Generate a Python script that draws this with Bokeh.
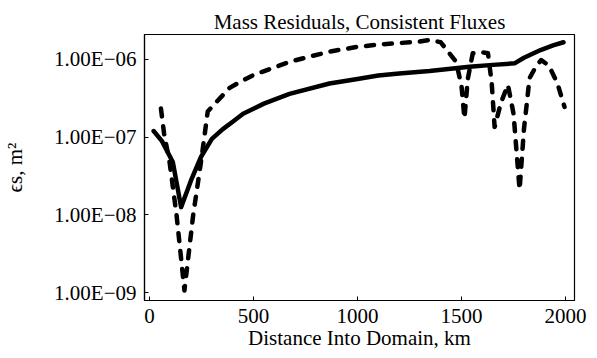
from bokeh.plotting import figure
from bokeh.models import FixedTicker, CustomJSTickFormatter, Range1d
from bokeh.embed import file_html
from bokeh.resources import INLINE

# Solid curve
solid_x = [20, 60, 112, 152, 200, 248, 300, 351, 400, 450, 550, 673, 865, 1000,
           1100, 1200, 1346, 1538, 1650, 1755, 1800, 1880, 1940, 1990]
solid_y = [1.2e-7, 8.9e-8, 4.8e-8, 1.26e-8, 2.8e-8, 5.6e-8, 9.5e-8, 1.26e-7,
           1.58e-7, 2.0e-7, 2.7e-7, 3.6e-7, 4.9e-7, 5.6e-7, 6.2e-7, 6.6e-7,
           7.1e-7, 8.05e-7, 8.5e-7, 8.9e-7, 1.05e-6, 1.32e-6, 1.51e-6, 1.66e-6]

# Dashed curve
dash_x = [55, 70, 96, 130, 168, 210, 248, 280, 320, 385, 433, 500, 673, 865,
          1000, 1100, 1200, 1298, 1346, 1400, 1474, 1500, 1514, 1530, 1554, 1600,
          1627, 1645, 1659, 1690, 1723, 1750, 1779, 1800, 1827, 1860, 1883, 1920,
          1960, 1995]
dash_y = [2.34e-7, 1.12e-7, 4.9e-8, 1.0e-8, 1.07e-9, 1.0e-8, 4.9e-8, 2.14e-7,
          2.8e-7, 4.3e-7, 5.1e-7, 6.3e-7, 9.3e-7, 1.26e-6, 1.45e-6, 1.55e-6,
          1.62e-6, 1.70e-6, 1.78e-6, 1.66e-6, 9.3e-7, 4.5e-7, 1.74e-7, 5.6e-7,
          1.2e-6, 1.23e-6, 1.2e-6, 5.0e-7, 1.35e-7, 2.8e-7, 4.7e-7, 2.0e-7,
          2.1e-8, 1.26e-7, 5.75e-7, 8.3e-7, 9.8e-7, 8.3e-7, 5.0e-7, 2.45e-7]

x_ticks = [0, 500, 1000, 1500, 2000]
y_ticks = [1e-9, 1e-8, 1e-7, 1e-6]
y_tick_labels = ["1.00E\u221209", "1.00E\u221208", "1.00E\u221207", "1.00E\u221206"]

FONT = "Liberation Serif"
FS = "21px"

p = figure(width=594, height=352, output_backend="svg", toolbar_location=None,
           y_axis_type="log",
           x_range=Range1d(-24, 2043), y_range=Range1d(10**-9.1, 10**-5.68),
           min_border_left=144, min_border_right=20, min_border_top=34,
           min_border_bottom=52)

p.title.text = "Mass Residuals, Consistent Fluxes"
p.title.align = "center"
p.title.text_font = FONT
p.title.text_font_size = FS
p.title.text_font_style = "normal"
p.title.text_color = "black"
p.title.standoff = 2

p.line(solid_x, solid_y, line_color="black", line_width=4.5, line_join="round", line_cap="round")
p.line(dash_x, dash_y, line_color="black", line_width=4.5, line_dash="8 10",
       line_join="round", line_cap="round")

p.xgrid.visible = False
p.ygrid.visible = False
p.outline_line_color = "black"
p.outline_line_width = 1.2

p.xaxis.ticker = FixedTicker(ticks=x_ticks)
p.yaxis.ticker = FixedTicker(ticks=y_ticks)
p.yaxis.formatter = CustomJSTickFormatter(args=dict(tvals=y_ticks, labels=y_tick_labels), code="""
    let best = 0, bd = 1e9;
    for (let i = 0; i < tvals.length; i++) {
        const d = Math.abs(Math.log10(tvals[i]) - Math.log10(tick));
        if (d < bd) { bd = d; best = i; }
    }
    return labels[best];
""")

for ax in (p.xaxis[0], p.yaxis[0]):
    ax.major_tick_in = 4
    ax.major_tick_out = 0
    ax.minor_tick_line_color = None
    ax.axis_line_color = "black"
    ax.axis_line_width = 1.2
    ax.major_tick_line_color = "black"
    ax.major_label_text_font = FONT
    ax.major_label_text_font_size = FS
    ax.major_label_text_color = "black"
    ax.axis_label_text_font = FONT
    ax.axis_label_text_font_size = FS
    ax.axis_label_text_font_style = "normal"
    ax.axis_label_text_color = "black"

p.xaxis.axis_label = "Distance Into Domain, km"
p.yaxis.axis_label = "\u03f5s, m\u00b2"
p.xaxis.major_label_standoff = 8
p.xaxis.axis_label_standoff = 0
p.yaxis.major_label_standoff = 8
p.yaxis.axis_label_standoff = 24

open("out.html", "w").write(file_html(p, INLINE))
